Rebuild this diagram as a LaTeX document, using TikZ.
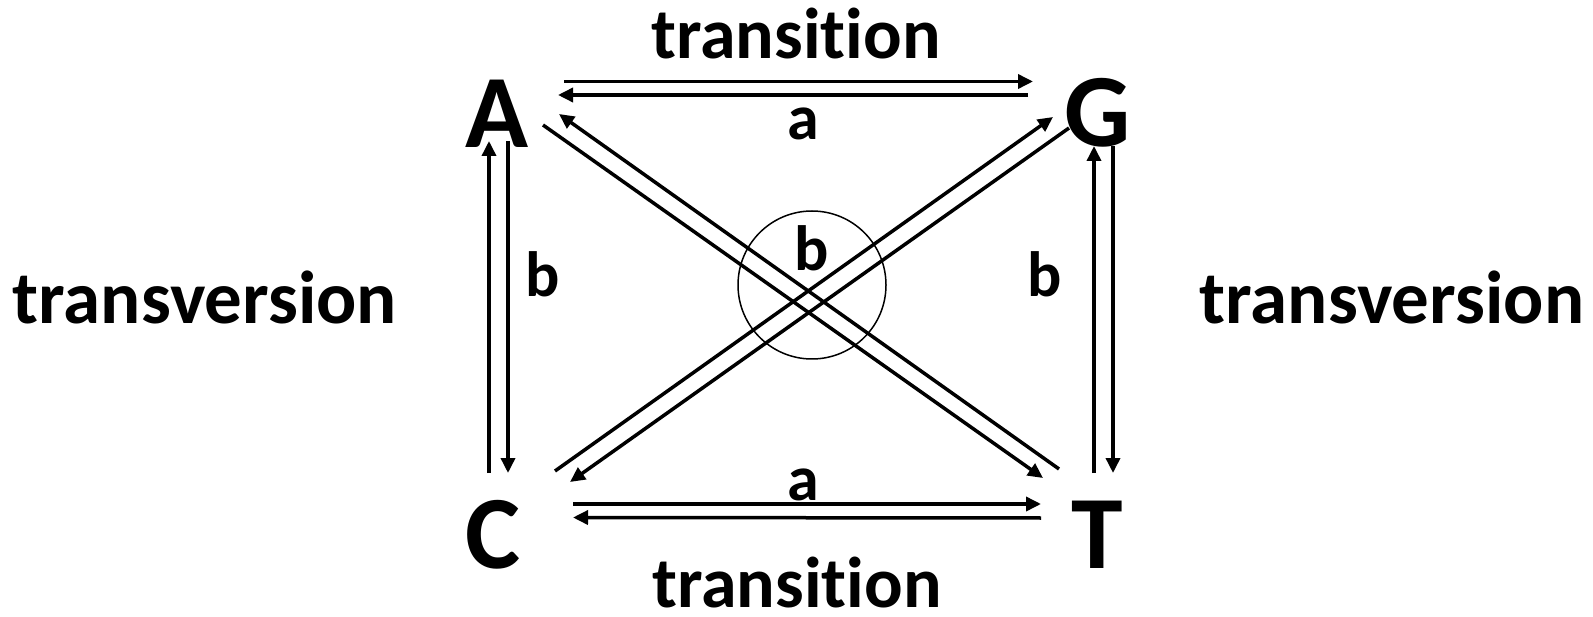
\documentclass[tikz,border=0pt]{standalone}
\usepackage{fontspec}
\setmainfont{Carlito}[Ligatures={NoCommon,NoRequired,NoContextual}]
\usetikzlibrary{arrows.meta}

\begin{document}
\begin{tikzpicture}[x=1pt, y=-1pt, >={Triangle[length=15pt, width=14pt]},
	txt/.style={inner sep=0pt, anchor=base},
	nuc/.style={txt, font=\fontsize{104}{104}\selectfont\bfseries},
	kind/.style={txt, font=\fontsize{72}{72}\selectfont\bfseries},
	rate/.style={txt, font=\fontsize{64}{64}\selectfont\bfseries},
	arr/.style={->, line width=3.5pt}]
	\useasboundingbox (0,0) rectangle (1593,617);
	% the four bases
	\node[nuc] (A) at (497,148) {A};
	\node[nuc] (G) at (1098,147) {G};
	\node[nuc] (C) at (493,568) {C};
	\node[nuc] (T) at (1097,568) {T};
	% kinds of change
	\node[kind] (ttop) at (796,59) {transition};
	\node[kind] (tbot) at (797,607) {transition};
	\node[kind, font=\fontsize{75}{75}\selectfont\bfseries] (vleft) at (205,324) {transversion};
	\node[kind, font=\fontsize{75}{75}\selectfont\bfseries] (vright) at (1392,324) {transversion};
	% rates
	\node[rate] (atop) at (803,140) {a};
	\node[rate] (abot) at (803,500) {a};
	\node[rate] (bleft) at (543,297) {b};
	\node[rate] (bright) at (1045,297) {b};
	\node[rate] (bmid) at (812,271) {b};
	\node[draw, circle, line width=1.5pt, minimum size=148pt, inner sep=0pt] (ring) at (812,285) {};
	% A <-> G
	\draw[arr] ([shift={(67,-66.5)}]A.base) -- ([shift={(-65,-65.5)}]G.base);
	\draw[arr] ([shift={(-70,-52)}]G.base) -- ([shift={(61,-53)}]A.base);
	% C <-> T
	\draw[arr] ([shift={(80,-64)}]C.base) -- ([shift={(-56,-64)}]T.base);
	\draw[arr] ([shift={(-56,-50)}]T.base) -- ([shift={(80,-50.5)}]C.base);
	% A <-> C
	\draw[arr] ([shift={(-4,-95)}]C.base) -- ([shift={(-8,-7)}]A.base);
	\draw[arr] ([shift={(11,-7)}]A.base) -- ([shift={(15,-95)}]C.base);
	% G <-> T
	\draw[arr] ([shift={(-3,-95)}]T.base) -- ([shift={(-4,-1)}]G.base);
	\draw[arr] ([shift={(15,-1)}]G.base) -- ([shift={(16,-95)}]T.base);
	% A <-> T
	\draw[arr] ([shift={(46,-23)}]A.base) -- ([shift={(-54,-90)}]T.base);
	\draw[arr] ([shift={(-38,-99)}]T.base) -- ([shift={(62,-34)}]A.base);
	% C <-> G
	\draw[arr] ([shift={(62,-97)}]C.base) -- ([shift={(-45,-30)}]G.base);
	\draw[arr] ([shift={(-29,-19)}]G.base) -- ([shift={(77,-86)}]C.base);
\end{tikzpicture}
\end{document}
